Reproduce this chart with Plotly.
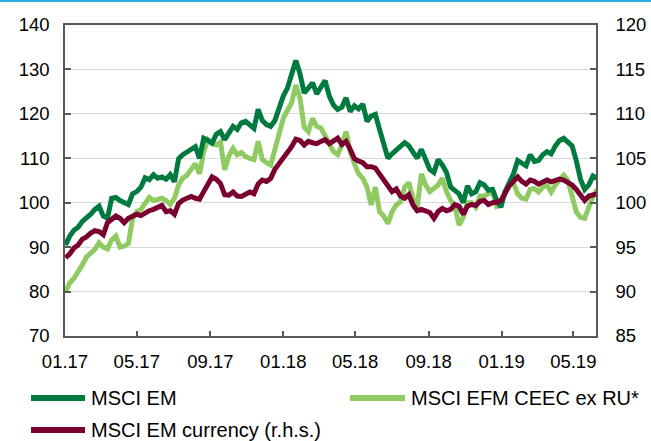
import pandas as pd
import plotly.graph_objects as go

# weekly observations starting 2017-01-02
start_date = "2017-01-02"

msci_em = [
    90.5, 92.5, 93.8, 94.5, 95.8, 96.5, 97.4, 98.5, 99.2, 97.0,
    96.5, 101.0, 101.2, 100.5, 100.0, 99.6, 102.0, 102.5, 103.5, 105.6,
    105.2, 106.3, 105.5, 105.8, 105.3, 106.3, 104.7, 109.9, 110.8, 111.5,
    112.2, 112.6, 110.0, 114.5, 114.0, 113.4, 115.4, 116.0, 114.2, 115.5,
    117.2, 116.5, 118.0, 118.3, 117.5, 116.7, 121.0, 118.5, 117.6, 117.2,
    118.5, 121.5, 124.0, 125.8, 128.5, 132.0, 129.0, 124.7, 125.8, 127.0,
    124.5, 126.2, 127.5, 124.0, 122.0, 121.0, 121.5, 123.6, 120.5, 121.8,
    121.1, 122.2, 118.3, 119.5, 119.9, 116.5, 113.5, 110.0, 111.0, 111.8,
    112.5, 113.5, 112.8, 111.5, 110.0, 112.0, 109.5, 107.5, 106.8, 109.7,
    108.5, 106.8, 103.5, 102.8, 102.0, 100.0, 103.8, 102.0, 102.5, 104.5,
    104.0, 102.8, 103.0, 100.5, 99.0, 102.5, 104.5, 106.5, 109.5, 108.8,
    108.3, 110.8, 109.3, 109.5, 110.8, 111.5, 111.0, 112.8, 114.0, 114.5,
    113.8, 112.8, 109.5, 105.3, 103.0, 104.0, 106.0, 105.5,
]

msci_ceec = [
    80.0, 82.0, 83.0, 84.3, 86.0, 87.8, 88.8, 89.5, 91.0, 90.0,
    89.6, 91.6, 92.5, 90.0, 90.2, 90.8, 96.5, 98.0, 98.5, 100.0,
    101.2, 100.5, 100.8, 101.0, 100.5, 99.6, 101.0, 104.0, 105.5, 106.2,
    107.5, 108.8, 106.5, 111.5, 114.2, 113.3, 113.0, 113.6, 107.4, 110.5,
    112.2, 110.8, 111.3, 110.4, 110.0, 109.7, 113.8, 109.7, 109.0, 108.5,
    112.0, 115.5, 119.0, 120.8, 122.5, 126.5, 123.5, 117.0, 116.0, 119.0,
    117.2, 116.8, 115.0, 113.0, 111.5, 110.8, 113.0, 116.0, 111.5, 108.8,
    106.5, 105.5, 103.5, 99.5, 103.5, 98.0, 97.0, 95.3, 98.0, 99.5,
    100.2, 103.5, 104.5, 101.0, 99.0, 106.5, 104.0, 102.5, 103.2, 104.0,
    105.5, 102.5, 100.5, 99.2, 95.0, 96.7, 100.0, 100.0, 99.0, 101.5,
    101.5, 102.0, 102.5, 99.2, 99.6, 102.5, 104.0, 104.5, 102.0, 101.0,
    100.8, 103.0, 103.2, 102.4, 103.5, 104.0, 102.4, 104.0, 105.3, 106.2,
    105.0, 101.8, 98.0, 96.7, 96.5, 99.0, 101.5, 103.0,
]

msci_em_currency = [
    93.8, 94.25, 94.9, 95.25, 95.9, 96.15, 96.6, 96.85, 96.75, 96.4,
    97.75, 98.15, 98.5, 98.25, 97.75, 98.25, 98.55, 98.7, 98.55, 98.9,
    99.1, 99.25, 99.5, 99.7, 99.0, 99.1, 98.7, 99.9, 100.3, 100.5,
    100.7, 100.5, 100.4, 101.25, 102.0, 102.9, 102.65, 102.15, 100.9, 100.85,
    101.2, 100.75, 100.7, 101.0, 101.2, 101.0, 102.1, 102.55, 102.4, 102.75,
    103.75, 104.4, 105.0, 105.6, 106.3, 107.15, 107.0, 106.5, 106.9, 106.75,
    106.65, 106.9, 107.1, 106.65, 107.0, 107.25, 106.55, 106.9, 106.0, 104.95,
    104.7, 104.5, 104.05, 104.05, 103.9, 103.25, 102.5, 101.75, 101.25, 101.55,
    100.75, 100.5, 100.9, 99.75, 99.1, 99.25, 99.1, 98.9, 98.25, 99.0,
    99.35, 99.1, 99.25, 99.8, 99.6, 98.7, 99.6, 99.8, 99.7, 100.15,
    100.25, 99.8, 100.0, 100.05, 100.25, 101.15, 101.9, 102.4, 102.9, 102.4,
    102.1, 102.55, 102.4, 102.1, 102.4, 102.55, 102.35, 102.5, 102.65, 102.55,
    102.25, 102.0, 101.5, 100.75, 100.25, 100.75, 100.9, 101.0,
]

tick_dates = ["2017-01-01", "2017-05-01", "2017-09-01", "2018-01-01",
              "2018-05-01", "2018-09-01", "2019-01-01", "2019-05-01"]
tick_labels = ["01.17", "05.17", "09.17", "01.18", "05.18", "09.18", "01.19", "05.19"]

names = ["MSCI EM", "MSCI EFM CEEC ex RU*", "MSCI EM currency (r.h.s.)"]
colors = ["#007A3E", "#8FCB62", "#7A0030"]


def dates_for(series):
    return pd.date_range(start_date, periods=len(series), freq="7D")


fig = go.Figure()
fig.add_trace(go.Scatter(x=dates_for(msci_ceec), y=msci_ceec, name=names[1],
                         mode="lines", line=dict(color=colors[1], width=5)))
fig.add_trace(go.Scatter(x=dates_for(msci_em), y=msci_em, name=names[0],
                         mode="lines", line=dict(color=colors[0], width=5)))
fig.add_trace(go.Scatter(x=dates_for(msci_em_currency), y=msci_em_currency, name=names[2],
                         mode="lines", line=dict(color=colors[2], width=5), yaxis="y2"))

axis_col = "#595959"
family = "Liberation Sans, Arial, sans-serif"
tick_font = dict(family=family, size=18.5, color="#000000")
legend_font = dict(family=family, size=20, color="#000000")

fig.update_layout(
    width=651, height=441,
    margin=dict(l=65, r=55, t=25, b=105, autoexpand=False),
    paper_bgcolor="white", plot_bgcolor="white",
    showlegend=False,
    font=tick_font,
    xaxis=dict(type="date", range=["2017-01-01", "2019-06-08"],
               tickvals=tick_dates, ticktext=tick_labels,
               ticks="inside", ticklen=5, tickcolor=axis_col, tickwidth=1.5,
               showline=True, linecolor=axis_col, linewidth=1.5, mirror=True,
               showgrid=False, zeroline=False, ticklabelstandoff=8,
               tickfont=tick_font),
    yaxis=dict(range=[70, 140], dtick=10, tick0=70,
               ticks="inside", ticklen=6, tickcolor=axis_col, tickwidth=1.5,
               showline=True, linecolor=axis_col, linewidth=1.5,
               showgrid=True, gridcolor="#D9D9D9", gridwidth=1,
               zeroline=False, ticklabelstandoff=10, tickfont=tick_font),
    yaxis2=dict(range=[85, 120], dtick=5, tick0=85, overlaying="y", side="right",
                ticks="inside", ticklen=6, tickcolor=axis_col, tickwidth=1.5,
                showline=True, linecolor=axis_col, linewidth=1.5,
                showgrid=False, zeroline=False, ticklabelstandoff=14,
                tickfont=tick_font),
)

# top accent line
fig.add_shape(type="line", xref="paper", yref="paper",
              x0=-0.13, x1=1.12, y0=1.0772, y1=1.0772,
              line=dict(color="#29ABE2", width=2))

# custom legend (line sample + label)
legend_items = [
    (names[0], colors[0], -0.064, 0.0377, 0.0452, -0.1994),
    (names[1], colors[1], 0.5367, 0.6403, 0.6478, -0.1994),
    (names[2], colors[2], -0.064, 0.0377, 0.0452, -0.3023),
]
for name, col, lx0, lx1, tx, ly in legend_items:
    fig.add_shape(type="line", xref="paper", yref="paper",
                  x0=lx0, x1=lx1, y0=ly, y1=ly,
                  line=dict(color=col, width=6))
    fig.add_annotation(xref="paper", yref="paper", x=tx, y=ly, text=name,
                       showarrow=False, xanchor="left", yanchor="middle",
                       font=legend_font)

fig.write_html("out.html", config={"displayModeBar": False},
               post_script="document.body.style.margin='0px';")
